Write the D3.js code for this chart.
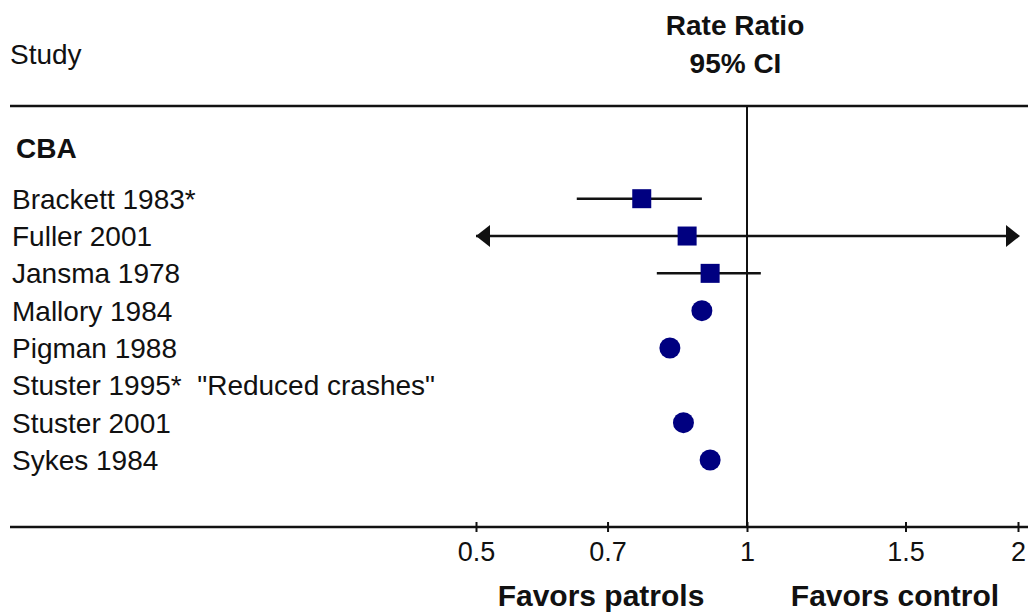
<!DOCTYPE html>
<html>
<head>
<meta charset="utf-8">
<script src="https://cdn.jsdelivr.net/npm/d3@7"></script>
<style>
  html, body { margin: 0; padding: 0; background: #fff; }
  svg { display: block; }
  text { font-family: "Liberation Sans", Arial, sans-serif; fill: #111; }
</style>
</head>
<body>
<svg id="chart" width="1028" height="614"></svg>
<script>
// ---- data ----
const groupLabel = "CBA";
const studies = ["Brackett 1983*", "Fuller 2001", "Jansma 1978", "Mallory 1984",
                 "Pigman 1988", "Stuster 1995*  \"Reduced crashes\"", "Stuster 2001", "Sykes 1984"];
const rateRatio = [0.764, 0.858, 0.91, 0.891, 0.821, null, 0.85, 0.91];
const ciLower   = [0.647, 0.30, 0.794, null, null, null, null, null];
const ciUpper   = [0.891, 3.00, 1.036, null, null, null, null, null];
const tickValues = [0.5, 0.7, 1, 1.5, 2];
const tickLabels = ["0.5", "0.7", "1", "1.5", "2"];
const favorLeft = "Favors patrols";
const favorRight = "Favors control";

// ---- layout ----
const W = 1028, H = 614;
const svg = d3.select("#chart");
const navy = "#000080";
const lineCol = "#111";

const x = d3.scaleLog().domain([0.5, 2]).range([476, 1018]);
const y = d3.scalePoint().domain(studies).range([198.7, 460]);
const axisY = 527, topLineY = 106;

// header texts
svg.append("text").attr("x", 10).attr("y", 64).attr("font-size", 28).text("Study");
svg.append("text").attr("x", 735).attr("y", 35).attr("font-size", 28)
   .attr("font-weight", "bold").attr("text-anchor", "middle").text("Rate Ratio");
svg.append("text").attr("x", 735.5).attr("y", 73).attr("font-size", 28)
   .attr("font-weight", "bold").attr("text-anchor", "middle").text("95% CI");

// top rule
svg.append("line").attr("x1", 10).attr("x2", W).attr("y1", topLineY).attr("y2", topLineY)
   .attr("stroke", lineCol).attr("stroke-width", 2.5);

// group label
svg.append("text").attr("x", 16).attr("y", 158).attr("font-size", 28)
   .attr("font-weight", "bold").text(groupLabel);

// study labels
svg.append("g").selectAll("text").data(studies).join("text")
   .attr("x", 12).attr("y", d => y(d) + 10).attr("font-size", 28)
   .attr("xml:space", "preserve").style("white-space", "pre")
   .text(d => d);

// null line
svg.append("line").attr("x1", x(1)).attr("x2", x(1)).attr("y1", topLineY).attr("y2", axisY)
   .attr("stroke", lineCol).attr("stroke-width", 2);

// axis
const axisG = svg.append("g").attr("transform", `translate(0,${axisY})`)
   .call(d3.axisBottom(x).tickValues(tickValues).tickFormat((d, i) => tickLabels[i]).tickSize(5));
axisG.select(".domain").remove();
axisG.selectAll(".tick line").attr("y1", -5).attr("y2", 5).attr("stroke", lineCol).attr("stroke-width", 2);
axisG.selectAll(".tick text").attr("y", 34).attr("dy", null)
   .attr("font-size", 27).attr("font-family", "\"Liberation Sans\", Arial, sans-serif").attr("fill", "#111");
svg.append("line").attr("x1", 10).attr("x2", W).attr("y1", axisY).attr("y2", axisY)
   .attr("stroke", lineCol).attr("stroke-width", 2.5);

// favors labels
svg.append("text").attr("x", 601).attr("y", 606).attr("font-size", 30)
   .attr("font-weight", "bold").attr("text-anchor", "middle").text(favorLeft);
svg.append("text").attr("x", 895).attr("y", 606).attr("font-size", 30)
   .attr("font-weight", "bold").attr("text-anchor", "middle").text(favorRight);

// rows data
const rows = studies.map((s, i) => ({ s, rr: rateRatio[i], lo: ciLower[i], hi: ciUpper[i] }));
const [dMin, dMax] = x.domain();
const clampX = v => x(Math.max(dMin, Math.min(dMax, v)));

// CI lines
const ciRows = rows.filter(r => r.lo != null && r.hi != null);
const gCI = svg.append("g");
gCI.selectAll("line").data(ciRows).join("line")
   .attr("x1", r => clampX(r.lo)).attr("x2", r => clampX(r.hi))
   .attr("y1", r => y(r.s)).attr("y2", r => y(r.s))
   .attr("stroke", lineCol).attr("stroke-width", 2.5);

// arrowheads for clipped CIs
const arrows = [];
ciRows.forEach(r => {
  if (r.lo < dMin) arrows.push({ r, dir: -1, tip: x(dMin) });
  if (r.hi > dMax) arrows.push({ r, dir: 1, tip: x(dMax) + 2 });
});
gCI.selectAll("path").data(arrows).join("path")
   .attr("d", a => {
     const yy = y(a.r.s), t = a.tip, b = a.tip - a.dir * 14;
     return `M${t},${yy} L${b},${yy - 11} L${b},${yy + 11} Z`;
   })
   .attr("fill", lineCol);

// point estimates
const pts = rows.filter(r => r.rr != null);
const sq = 19;
svg.append("g").selectAll("rect").data(pts.filter(r => r.lo != null)).join("rect")
   .attr("x", r => x(r.rr) - sq / 2).attr("y", r => y(r.s) - sq / 2)
   .attr("width", sq).attr("height", sq).attr("fill", navy);
svg.append("g").selectAll("circle").data(pts.filter(r => r.lo == null)).join("circle")
   .attr("cx", r => x(r.rr)).attr("cy", r => y(r.s)).attr("r", 10.5).attr("fill", navy);
</script>
</body>
</html>
